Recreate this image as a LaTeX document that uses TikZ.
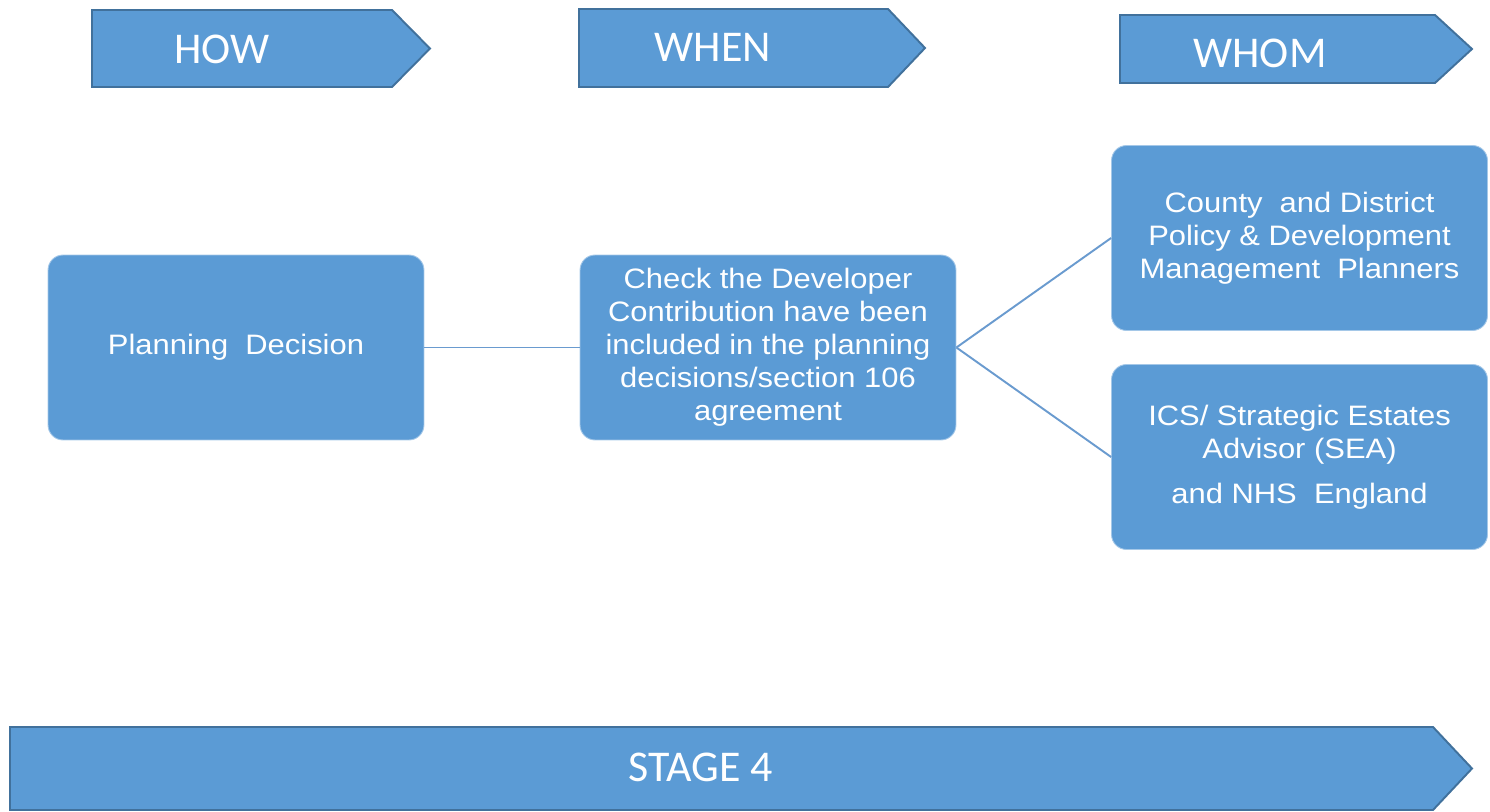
\documentclass[tikz,border=0pt]{standalone}
\usepackage{fontspec}
\setmainfont{Liberation Sans}
\newfontfamily\hdrfont{Carlito}
\newfontfamily\boxfont{Liberation Sans}[FakeStretch=1.1]
\definecolor{boxblue}{HTML}{5B9BD5}
\definecolor{edgeblue}{HTML}{41719C}
\definecolor{lineblue}{HTML}{6A9BCF}
\tikzset{
  hdr/.style={fill=boxblue, draw=edgeblue, line width=1.1pt, line join=miter},
  hdrtext/.style={text=white, font=\hdrfont\fontsize{25}{30}\selectfont},
  stepbox/.style={fill=boxblue, draw=boxblue!55!white, line width=0.5pt, rounded corners=0.3cm,
    minimum width=7.52cm, minimum height=3.7cm, text=white, align=center,
    font=\boxfont\fontsize{16}{18.8}\selectfont},
  link/.style={draw=lineblue, line width=1.1pt}
}
\begin{document}
\begin{tikzpicture}[x=0.02cm,y=-0.02cm]
\useasboundingbox (0,0) rectangle (1490,811);
% header arrows
\draw[hdr] (92,10) -- (392,10) -- (430,48.5) -- (392,87) -- (92,87) -- cycle;
\draw[hdr] (579,9) -- (888,9) -- (925,48) -- (888,87) -- (579,87) -- cycle;
\draw[hdr] (1120,15) -- (1435,15) -- (1472,49) -- (1435,83) -- (1120,83) -- cycle;
\draw[hdr] (10,727) -- (1433,727) -- (1472,768.5) -- (1433,810) -- (10,810) -- cycle;
\node[hdrtext] (how) at (222,49) {HOW};
\node[hdrtext] (when) at (713,47) {WHEN};
\node[hdrtext] (whom) at (1260,53) {WHOM};
\node[hdrtext] (stage) at (701,767) {STAGE 4};
% boxes
\node[stepbox] (pd) at (236,347.5) {Planning\ \ Decision};
\node[stepbox] (chk) at (768,347.5) {Check the Developer\\Contribution have been\\included in the planning\\decisions/section 106\\agreement};
\node[stepbox] (cty) at (1299.5,238) {County\ \ and District\\Policy \& Development\\Management\ \ Planners};
\node[stepbox] (ics) at (1299.5,457) {ICS/ Strategic Estates\\Advisor (SEA)\\[7pt]and NHS\ \ England};
% links
\draw[link] (pd) -- (chk);
\draw[link] (chk.east) -- (cty.west);
\draw[link] (chk.east) -- (ics.west);
\end{tikzpicture}
\end{document}
